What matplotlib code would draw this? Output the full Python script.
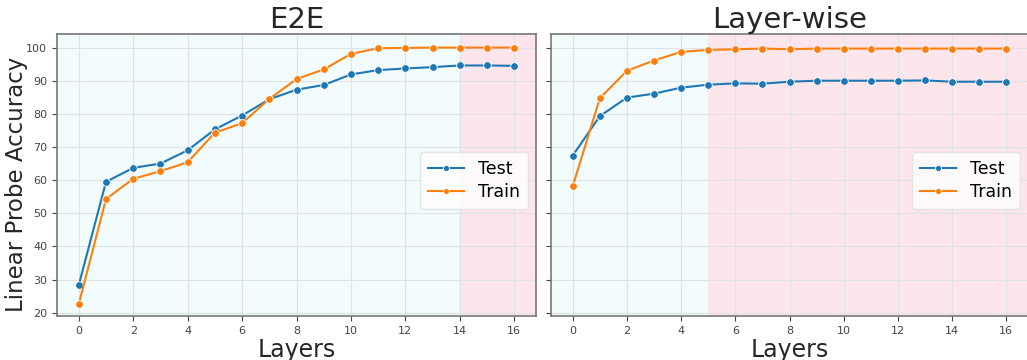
import numpy as np
import matplotlib
matplotlib.use('Agg')
import matplotlib.pyplot as plt

layers = np.arange(17)

# E2E training
e2e_test = [28.3, 59.5, 63.7, 65.0, 69.0, 75.3, 79.5, 84.4, 87.3, 88.7,
            91.9, 93.2, 93.7, 94.1, 94.6, 94.6, 94.5]
e2e_train = [22.6, 54.3, 60.4, 62.7, 65.4, 74.3, 77.2, 84.5, 90.5, 93.4,
             98.1, 99.8, 99.9, 100.0, 100.0, 100.0, 100.0]
e2e_split = 14

# layer-wise training
lw_test = [67.4, 79.3, 84.9, 86.1, 87.9, 88.8, 89.2, 89.1, 89.7, 90.0,
           90.0, 90.0, 90.0, 90.1, 89.7, 89.7, 89.7]
lw_train = [58.1, 84.7, 93.0, 96.1, 98.7, 99.3, 99.5, 99.7, 99.5, 99.7,
            99.7, 99.7, 99.7, 99.7, 99.7, 99.7, 99.7]
lw_split = 5

titles = ["E2E", "Layer-wise"]

fig = plt.figure(figsize=(10.27, 3.6), dpi=100)
ax1 = fig.add_axes([57/1027, 44/360, 479/1027, 282/360])
ax2 = fig.add_axes([551/1027, 44/360, 477/1027, 282/360], sharey=ax1)

def draw_panel(ax, test, train, split, title):
    xlim = (-0.8, 16.8)
    ax.axvspan(xlim[0], split, color='#f2fcfd', zorder=0)
    ax.axvspan(split, xlim[1], color='#fde6eb', zorder=0)
    ax.grid(True, color='#dfe3e6', linewidth=0.8, zorder=1)
    ax.set_axisbelow(True)
    ax.plot(layers, test, color='#1f77b4', marker='o', markersize=5.5,
            markeredgecolor='white', markeredgewidth=0.6, linewidth=1.5, label='Test', zorder=3)
    ax.plot(layers, train, color='#ff7f0e', marker='o', markersize=5.5,
            markeredgecolor='white', markeredgewidth=0.6, linewidth=1.5, label='Train', zorder=3)
    ax.set_xlim(*xlim)
    ax.set_ylim(19.0, 104.1)
    ax.set_xticks(range(0, 17, 2))
    ax.set_yticks(range(20, 101, 10))
    ax.tick_params(labelsize=8, colors='#444444', length=3.5)
    ax.set_title(title, fontsize=21, color='#262626', pad=1)
    ax.set_xlabel("Layers", fontsize=17, color='#262626', labelpad=2)
    for s in ax.spines.values():
        s.set_color('#777777')
        s.set_linewidth(1.2)
    leg = ax.legend(loc='center right', fontsize=12.5, frameon=True, handlelength=2.1,
                    handletextpad=0.8, labelspacing=0.3, borderpad=0.45, borderaxespad=0,
                    markerscale=0.8, bbox_to_anchor=(0.983, 0.48))
    leg.get_frame().set_edgecolor('#e0e0e0')

draw_panel(ax1, e2e_test, e2e_train, e2e_split, titles[0])
draw_panel(ax2, lw_test, lw_train, lw_split, titles[1])
ax1.set_ylabel("Linear Probe Accuracy", fontsize=16.5, color='#262626')
ax1.yaxis.set_label_coords(-0.06, 0.465)
plt.setp(ax2.get_yticklabels(), visible=False)

plt.savefig('out.png', dpi=100)
